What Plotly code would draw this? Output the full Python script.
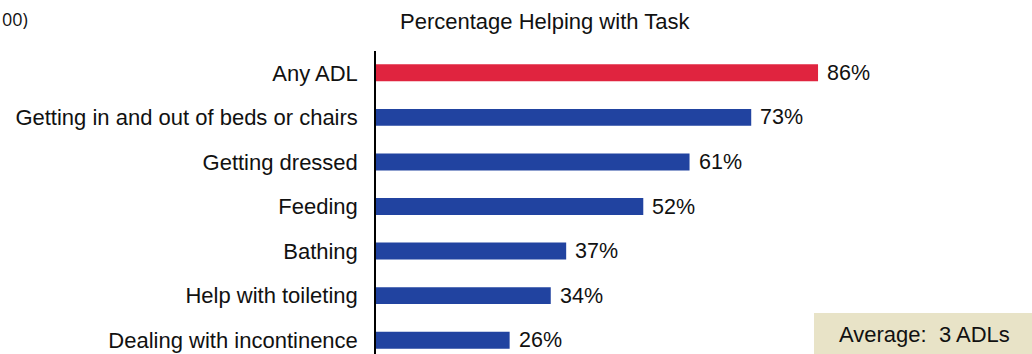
import plotly.graph_objects as go

# Tasks listed bottom-to-top so the first row drawn is at the bottom
tasks = [
    "Dealing with incontinence",
    "Help with toileting",
    "Bathing",
    "Feeding",
    "Getting dressed",
    "Getting in and out of beds or chairs",
    "Any ADL",
]
percent = [26, 34, 37, 52, 61, 73, 86]
value_labels = [f"{v}%" for v in percent]
bar_colors = ["#2143A0"] * 6 + ["#E0243F"]

W, H = 1032, 354
L, T = 376, 51
FONT = "Liberation Sans, Arial"

fig = go.Figure()
fig.add_trace(go.Bar(
    x=percent,
    y=tasks,
    orientation="h",
    width=0.38,
    marker=dict(color=bar_colors, line=dict(width=0)),
    hoverinfo="skip",
))

# value labels just past the end of each bar
for t, v, lab in zip(tasks, percent, value_labels):
    fig.add_annotation(
        x=v, y=t, text=lab, showarrow=False,
        xanchor="left", yanchor="middle", xshift=7,
        font=dict(family=FONT, size=21.5, color="#111111"),
    )

fig.update_layout(
    width=W, height=H,
    margin=dict(l=L, r=0, t=T, b=0),
    paper_bgcolor="white",
    plot_bgcolor="white",
    showlegend=False,
    xaxis=dict(
        range=[0, (W - L) / 5.14],
        visible=False,
        fixedrange=True,
    ),
    yaxis=dict(
        type="category",
        categoryorder="array",
        categoryarray=tasks,
        range=[-0.31, 6.49],
        showline=True,
        linecolor="#000000",
        linewidth=1.5,
        showgrid=False,
        zeroline=False,
        ticks="",
        ticklabelstandoff=12,
        tickfont=dict(family=FONT, size=22, color="#111111"),
    ),
    annotations=list(fig.layout.annotations) + [
        dict(
            text="Percentage Helping with Task",
            xref="paper", yref="paper", x=(545 - L) / (W - L), y=1,
            yshift=30, xanchor="center", yanchor="middle",
            showarrow=False,
            font=dict(family=FONT, size=22, color="#111111"),
        ),
        dict(
            text="00)",
            xref="paper", yref="paper", x=-L / (W - L), y=1,
            yshift=32, xanchor="left", yanchor="middle",
            showarrow=False,
            font=dict(family="Open Sans, Liberation Sans", size=18, color="#111111"),
        ),
        dict(
            text="Average:  3 ADLs",
            xref="paper", yref="paper", x=(924 - L) / (W - L), y=20 / (H - T),
            xanchor="center", yanchor="middle",
            showarrow=False,
            font=dict(family=FONT, size=22, color="#111111"),
        ),
    ],
    shapes=[
        dict(
            type="rect", xref="paper", yref="paper",
            x0=(814 - L) / (W - L), x1=1, y0=0, y1=(H - 313) / (H - T),
            fillcolor="#E8E3C7", line=dict(width=0), layer="below",
        ),
    ],
)

fig.write_html("out.html")
